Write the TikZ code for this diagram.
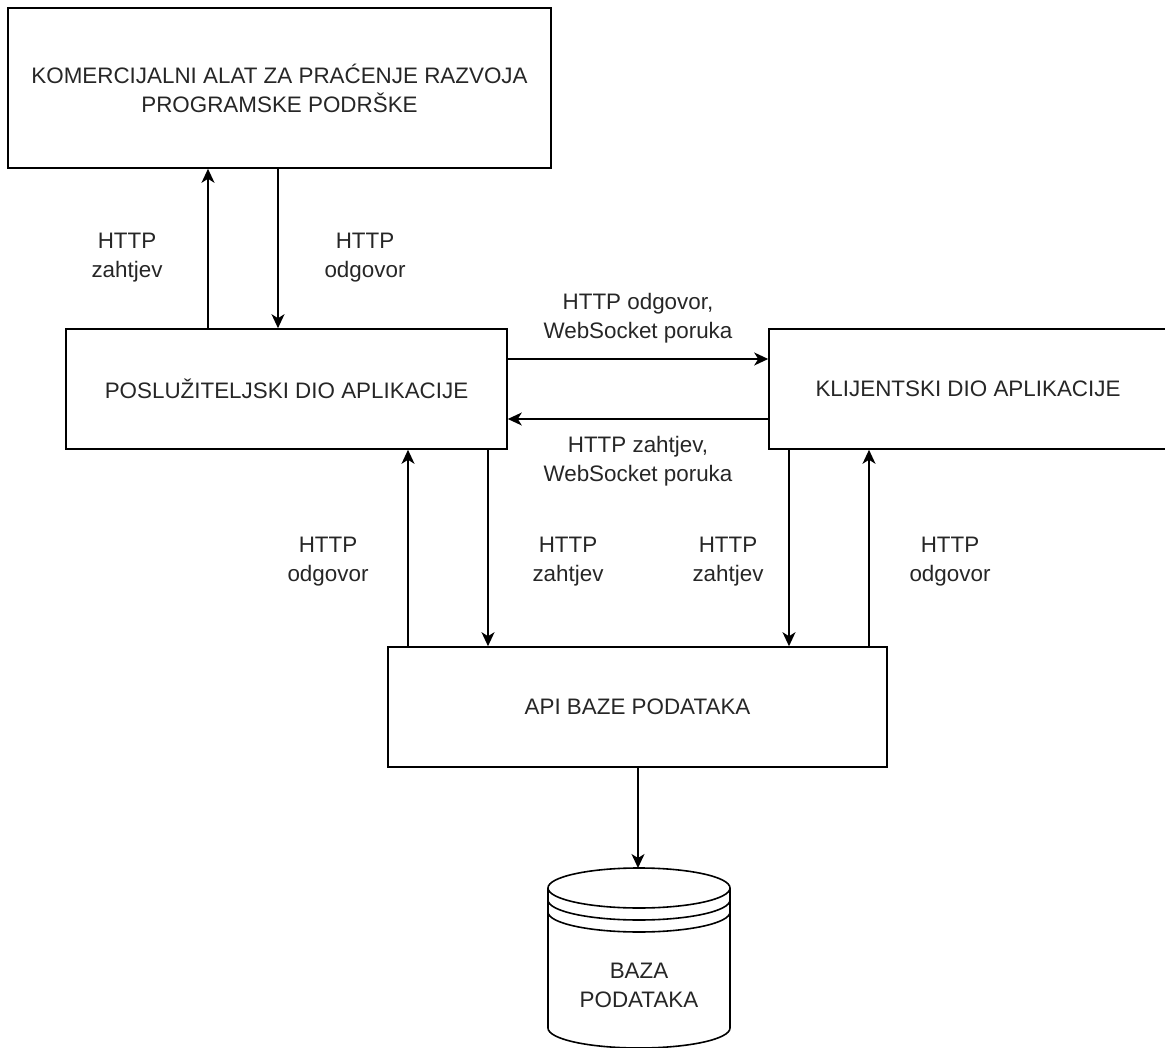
\documentclass[tikz,border=0pt]{standalone}
\usepackage{fontspec}
\setmainfont{Liberation Sans}
\usetikzlibrary{arrows.meta, positioning, calc}

\tikzset{
  box/.style={draw, line width=1.6pt, align=center, text=black!85,
    font=\fontsize{22.4}{29}\selectfont, inner sep=0pt},
  lbl/.style={align=center, text=black!85, font=\fontsize{22.4}{29}\selectfont, inner sep=0pt},
  flow/.style={line width=1.6pt, -{Stealth[length=14pt, width=13pt, inset=4pt]}},
}

\begin{document}
\begin{tikzpicture}[x=1pt, y=-1pt]

\useasboundingbox (0,0) rectangle (1165,1048);

\def\rx{91pt}
\def\ry{20pt}

\node[box, minimum width=543pt, minimum height=160pt] (tool) at (279.5,88)
  {KOMERCIJALNI ALAT ZA PRAĆENJE RAZVOJA\\PROGRAMSKE PODRŠKE};
\node[box, minimum width=441pt, minimum height=120pt] (srv) at (286.5,389)
  {POSLUŽITELJSKI DIO APLIKACIJE};
\node[box, minimum width=398pt, minimum height=120pt] (cli) at (968,389)
  {KLIJENTSKI DIO APLIKACIJE};
\node[box, minimum width=499pt, minimum height=120pt] (api) at (637.5,707)
  {API BAZE PODATAKA};

\draw[line width=1.6pt] (548,888) -- (548,1028)
  arc[start angle=180, end angle=360, x radius=\rx, y radius=\ry] -- (730,888);
\draw[line width=1.6pt, fill=white] (639,888) ellipse [x radius=\rx, y radius=\ry];
\foreach \k in {900,912} {
  \draw[line width=1.6pt] (548,\k) arc[start angle=180, end angle=360, x radius=\rx, y radius=\ry];
}
\coordinate (dbtop) at (638,868);
\node[lbl] (db) at (639,985) {BAZA\\PODATAKA};

\draw[flow] ([xshift=-78.5pt]srv.north) -- ([xshift=-78.5pt]srv.north |- tool.south);
\draw[flow] ([xshift=-8.5pt]srv.north |- tool.south) -- ([xshift=-8.5pt]srv.north);

\draw[flow] ([yshift=30pt]srv.east) -- ([yshift=30pt]srv.east -| cli.west);
\draw[flow] ([yshift=-30pt]cli.west) -- ([yshift=-30pt]cli.west -| srv.east);

\draw[flow] ([xshift=-229.5pt]api.north) -- ([xshift=-229.5pt]api.north |- srv.south);
\draw[flow] ([xshift=-149.5pt]api.north |- srv.south) -- ([xshift=-149.5pt]api.north);
\draw[flow] ([xshift=151.5pt]api.north |- cli.south) -- ([xshift=151.5pt]api.north);
\draw[flow] ([xshift=231.5pt]api.north) -- ([xshift=231.5pt]api.north |- cli.south);

\draw[flow] (api.south -| dbtop) -- (dbtop);

\node[lbl] (reqtool) at (127,258) {HTTP\\zahtjev};
\node[lbl] (restool) at (365,258) {HTTP\\odgovor};
\node[lbl] (rescli) at (638,318) {HTTP odgovor,\\WebSocket poruka};
\node[lbl] (reqcli) at (638,461) {HTTP zahtjev,\\WebSocket poruka};
\node[lbl] (ressrvapi) at (328,562) {HTTP\\odgovor};
\node[lbl] (reqsrvapi) at (568,562) {HTTP\\zahtjev};
\node[lbl] (reqcliapi) at (728,562) {HTTP\\zahtjev};
\node[lbl] (rescliapi) at (950,562) {HTTP\\odgovor};

\end{tikzpicture}
\end{document}
